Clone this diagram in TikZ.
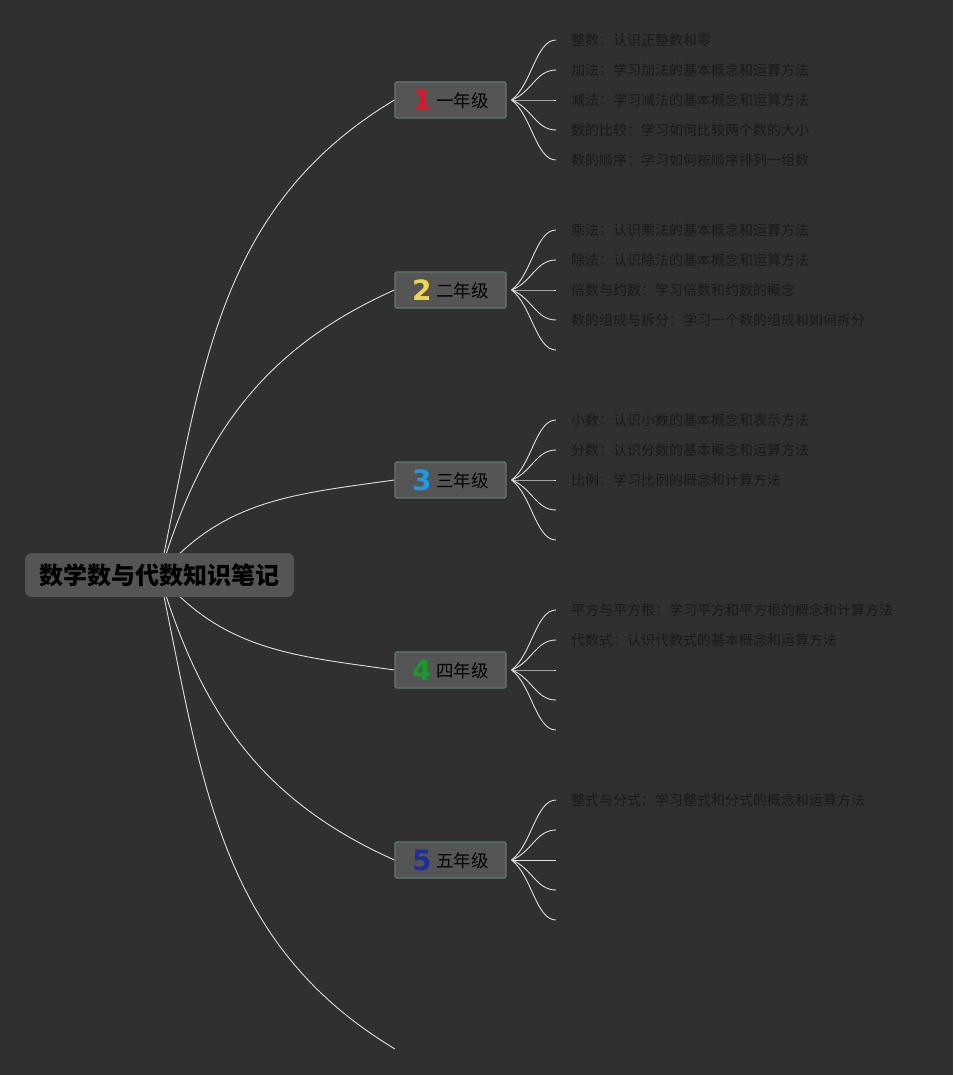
\documentclass[tikz,border=0pt]{standalone}
\usepackage{fontspec}
\setmainfont{Noto Sans CJK SC}
\newfontfamily\digitfont{DejaVu Sans}
\usetikzlibrary{positioning}

\definecolor{bg}{HTML}{303030}
\definecolor{boxfill}{HTML}{555555}
\definecolor{boxline}{HTML}{5B7B6F}
\definecolor{leaftext}{HTML}{191919}
\definecolor{numred}{HTML}{D8192B}
\definecolor{numyellow}{HTML}{F2D64B}
\definecolor{numblue}{HTML}{1E9BE0}
\definecolor{numgreen}{HTML}{1A9A2A}
\definecolor{numnavy}{HTML}{1E2E9A}

\pgfdeclarelayer{back}
\pgfsetlayers{back,main}

\tikzset{
  root/.style={fill=boxfill, rounded corners=7pt, minimum width=269pt, minimum height=44pt,
    inner sep=0pt, font=\fontsize{24}{28}\selectfont\bfseries, text=black},
  grade/.style={fill=boxfill, draw=boxline, line width=1.2pt, rounded corners=1.5pt,
    minimum width=111pt, minimum height=36pt, inner sep=0pt,
    font=\fontsize{17.5}{20}\selectfont, text=black},
  leaf/.style={inner sep=0pt, font=\fontsize{14}{16}\selectfont, text=leaftext},
  branch/.style={draw=white!88!black, line width=0.9pt},
}
\newcommand{\gnum}[2]{\raisebox{-2.5pt}{\digitfont\bfseries\fontsize{28}{28}\selectfont\color{#1}#2}\hspace{5pt}}

\begin{document}
\begin{tikzpicture}[x=1pt, y=-1pt]
\begin{pgfonlayer}{back}
  \fill[bg] (0,0) rectangle (953,1075);
\end{pgfonlayer}

\node[root] (root) at (159.5,575) {数学数与代数知识笔记};
\node[grade] (g1) at (450.5,100) {\gnum{numred}{1}一年级};
\node[grade] (g2) at (450.5,290) {\gnum{numyellow}{2}二年级};
\node[grade] (g3) at (450.5,480) {\gnum{numblue}{3}三年级};
\node[grade] (g4) at (450.5,670) {\gnum{numgreen}{4}四年级};
\node[grade] (g5) at (450.5,860) {\gnum{numnavy}{5}五年级};
\coordinate (tail) at (395,1049);

\begin{pgfonlayer}{back}
  % root to grades, control points by eye
  \foreach \g/\ax/\ay/\bx/\by in {g1/43/-203/-178/107, g2/42/-139/-132/59, g3/64/-76/-99/14,
      g4/64/76/-99/-14, g5/42/139/-132/-59}{
    \draw[branch] (root.center) .. controls +(\ax,\ay) and +(\bx,\by) .. (\g.west);
  }
  \draw[branch] (root.center) .. controls +(43,203) and +(-178,-107) .. (tail);
  % five short branches per grade
  \foreach \g/\y in {1/100, 2/290, 3/480, 4/670, 5/860}{
    \foreach \k/\a in {1/-60, 2/-30, 3/0, 4/30, 5/60}{
      \coordinate (e\g\k) at (556,\y+\a);
      \draw[branch] ([xshift=5pt]g\g.east) .. controls +(20,\a/4) and +(-20,0) .. (e\g\k);
    }
  }
\end{pgfonlayer}

\foreach \g/\k/\t in {1/1/整数：认识正整数和零, 1/2/加法：学习加法的基本概念和运算方法,
    1/3/减法：学习减法的基本概念和运算方法, 1/4/数的比较：学习如何比较两个数的大小,
    1/5/数的顺序：学习如何按顺序排列一组数,
    2/1/乘法：认识乘法的基本概念和运算方法, 2/2/除法：认识除法的基本概念和运算方法,
    2/3/倍数与约数：学习倍数和约数的概念, 2/4/数的组成与拆分：学习一个数的组成和如何拆分,
    3/1/小数：认识小数的基本概念和表示方法, 3/2/分数：认识分数的基本概念和运算方法,
    3/3/比例：学习比例的概念和计算方法,
    4/1/平方与平方根：学习平方和平方根的概念和计算方法, 4/2/代数式：认识代数式的基本概念和运算方法,
    5/1/整式与分式：学习整式和分式的概念和运算方法}{
  \node[leaf, right=15pt of e\g\k] (t\g\k) {\t};
}
\end{tikzpicture}
\end{document}
